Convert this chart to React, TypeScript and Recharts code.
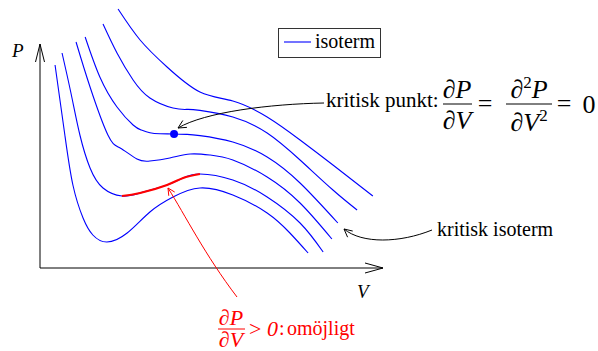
import { LineChart, Line, XAxis, YAxis, ReferenceDot } from 'recharts';

// isotherms, lowest temperature first: [V, P] in arbitrary units
const iso1: [number, number][] = [
  [0.43, 10.15], [0.71, 6.65], [0.94, 4.15], [1.23, 2.5], [1.51, 1.65], [1.91, 1.3],
  [2.49, 1.75], [3.14, 2.8], [3.8, 3.55], [4.57, 4.0], [5.51, 3.65], [6.49, 2.75],
  [7.14, 1.75], [7.66, 0.75],
];
const iso2: [number, number][] = [
  [0.63, 10.75], [0.89, 8.7], [1.14, 6.65], [1.43, 5.0], [1.8, 4.0], [2.34, 3.6],
  [2.86, 3.75], [3.63, 4.15], [4.09, 4.5], [4.57, 4.7], [5.51, 4.4], [6.49, 3.55],
  [7.43, 2.25], [8.09, 0.8],
];
const iso3: [number, number][] = [
  [1.03, 11.3], [1.43, 9.05], [1.94, 6.65], [2.29, 6.0], [2.77, 5.45], [3.14, 5.35],
  [3.71, 5.5], [4.29, 5.7], [4.86, 5.65], [5.51, 5.4], [6.49, 4.55], [7.43, 3.25],
  [8.34, 1.45],
];
const iso4: [number, number][] = [
  [1.29, 11.55], [1.71, 9.55], [2.2, 8.05], [2.66, 7.15], [2.89, 6.9], [3.14, 6.76],
  [3.43, 6.71], [3.83, 6.7], [4.2, 6.68], [4.57, 6.62], [5.51, 6.3], [6.49, 5.55],
  [7.43, 4.25], [8.51, 2.25],
];
const iso5: [number, number][] = [
  [1.8, 12.2], [2.2, 10.75], [2.66, 9.4], [3.14, 8.5], [3.8, 8.0], [4.2, 7.93],
  [4.57, 7.88], [5.51, 7.55], [6.49, 6.75], [7.43, 5.4], [8.37, 3.9], [9.06, 2.9],
];
const iso6: [number, number][] = [
  [2.23, 12.95], [2.86, 11.4], [3.63, 10.05], [4.57, 8.8], [5.51, 8.35], [6.49, 7.55],
  [7.43, 6.4], [8.37, 5.15], [9.51, 3.6],
];
const isotherms = [iso1, iso2, iso3, iso4, iso5, iso6];

// part of iso2 between its local min and max, where dP/dV > 0
const unstable = iso2.slice(5, 10);
const criticalPoint = { v: 3.83, p: 6.7 };

const toRows = (pts: [number, number][]) => pts.map(([v, p]) => ({ v, p }));

const SERIF = "'Liberation Serif', 'DejaVu Serif', serif";

// open arrow head at (tx, ty), coming from (fx, fy)
function head(tx: number, ty: number, fx: number, fy: number, len: number, half: number) {
  const dx = tx - fx;
  const dy = ty - fy;
  const d = Math.hypot(dx, dy);
  const ux = dx / d;
  const uy = dy / d;
  const bx = tx - ux * len;
  const by = ty - uy * len;
  return `M${bx - uy * half},${by + ux * half} L${tx},${ty} L${bx + uy * half},${by - ux * half}`;
}

export default function App() {
  return (
    <div style={{ position: 'absolute', left: 0, top: 0, width: 598, height: 351, background: 'white' }}>
      <LineChart width={598} height={351} data={toRows(iso1)} margin={{ top: 8, right: 208, bottom: 83, left: 40 }}>
        <XAxis type="number" dataKey="v" domain={[0, 10]} hide />
        <YAxis type="number" dataKey="p" domain={[0, 13]} hide />
        {isotherms.map((iso, i) => (
          <Line
            key={i}
            data={toRows(iso)}
            dataKey="p"
            type="natural"
            stroke="#0000ff"
            strokeWidth={1.1}
            dot={false}
            activeDot={false}
            isAnimationActive={false}
          />
        ))}
        <Line
          data={toRows(unstable)}
          dataKey="p"
          type="natural"
          stroke="#ff0000"
          strokeWidth={2.2}
          dot={false}
          activeDot={false}
          isAnimationActive={false}
        />
        <ReferenceDot x={criticalPoint.v} y={criticalPoint.p} r={4} fill="#0000ff" stroke="none" />
      </LineChart>

      <svg width={598} height={351} style={{ position: 'absolute', left: 0, top: 0, pointerEvents: 'none', fontFamily: SERIF }}>
        {/* axes */}
        <g stroke="#000" strokeWidth={1} fill="none">
          <line x1={40} y1={268} x2={40} y2={44} />
          <line x1={40} y1={268} x2={383} y2={268} />
          <path d={head(40, 44, 40, 60, 18, 4.5)} />
          <path d={head(383, 268, 365, 268, 18, 5)} />
        </g>
        <text x={12} y={57} style={{ fontFamily: SERIF, fontStyle: 'italic', fontSize: 19 }}>P</text>
        <text x={357} y={298} style={{ fontFamily: SERIF, fontStyle: 'italic', fontSize: 19 }}>V</text>

        {/* legend */}
        <rect x={278.5} y={28.5} width={102} height={29} fill="white" stroke="#333" strokeWidth={1} />
        <line x1={284} y1={42} x2={311} y2={42} stroke="#0000ff" strokeWidth={1.1} />
        <text x={315} y={48} style={{ fontFamily: SERIF, fontSize: 20 }}>isoterm</text>

        {/* critical point annotation */}
        <g stroke="#000" strokeWidth={1} fill="none">
          <path d="M324,103 C270,104 205,112 178,128" />
          <path d={head(178, 128, 205, 112, 8, 4)} />
          <path d="M432,230 C400,243 362,244 344,229" />
          <path d={head(344, 229, 362, 244, 8, 4)} />
        </g>
        <g style={{ fontFamily: SERIF }} fill="#000">
          <text x={326} y={107} style={{ fontSize: 21 }}>kritisk punkt:</text>
          <text x={457} y={98} style={{ fontSize: 26 }} textAnchor="middle">∂<tspan fontStyle="italic">P</tspan></text>
          <line x1={443} y1={104} x2={472} y2={104} stroke="#000" strokeWidth={1} />
          <text x={457} y={129} style={{ fontSize: 26 }} textAnchor="middle">∂<tspan fontStyle="italic">V</tspan></text>
          <text x={485} y={112} style={{ fontSize: 26 }} textAnchor="middle">=</text>
          <text x={529} y={98} style={{ fontSize: 26 }} textAnchor="middle">
            ∂<tspan fontSize={17} dy={-10}>2</tspan><tspan fontStyle="italic" dy={10}>P</tspan>
          </text>
          <line x1={506} y1={104} x2={552} y2={104} stroke="#000" strokeWidth={1} />
          <text x={529} y={131} style={{ fontSize: 26 }} textAnchor="middle">
            ∂<tspan fontStyle="italic">V</tspan><tspan fontSize={17} dy={-10}>2</tspan>
          </text>
          <text x={564} y={112} style={{ fontSize: 26 }} textAnchor="middle">=</text>
          <text x={589} y={113} style={{ fontSize: 26 }} textAnchor="middle">0</text>
          <text x={437} y={236} style={{ fontSize: 20 }}>kritisk isoterm</text>
        </g>

        {/* unstable region annotation */}
        <g stroke="#ff0000" strokeWidth={1} fill="none">
          <path d="M237,297 C205,255 185,215 168,188" />
          <path d={head(168, 188, 185, 215, 7, 3.5)} />
        </g>
        <g style={{ fontFamily: SERIF }} fill="#ff0000">
          <text x={231} y={325} style={{ fontSize: 22 }} textAnchor="middle">∂<tspan fontStyle="italic">P</tspan></text>
          <line x1={218} y1={329} x2={245} y2={329} stroke="#ff0000" strokeWidth={1} />
          <text x={231} y={347} style={{ fontSize: 22 }} textAnchor="middle">∂<tspan fontStyle="italic">V</tspan></text>
          <text x={249} y={336} style={{ fontSize: 22 }}>&gt; <tspan fontStyle="italic">0</tspan></text>
          <text x={279} y={335} style={{ fontSize: 20 }}>:</text>
          <text x={287} y={335} style={{ fontSize: 20 }}>omöjligt</text>
        </g>
      </svg>
    </div>
  );
}
